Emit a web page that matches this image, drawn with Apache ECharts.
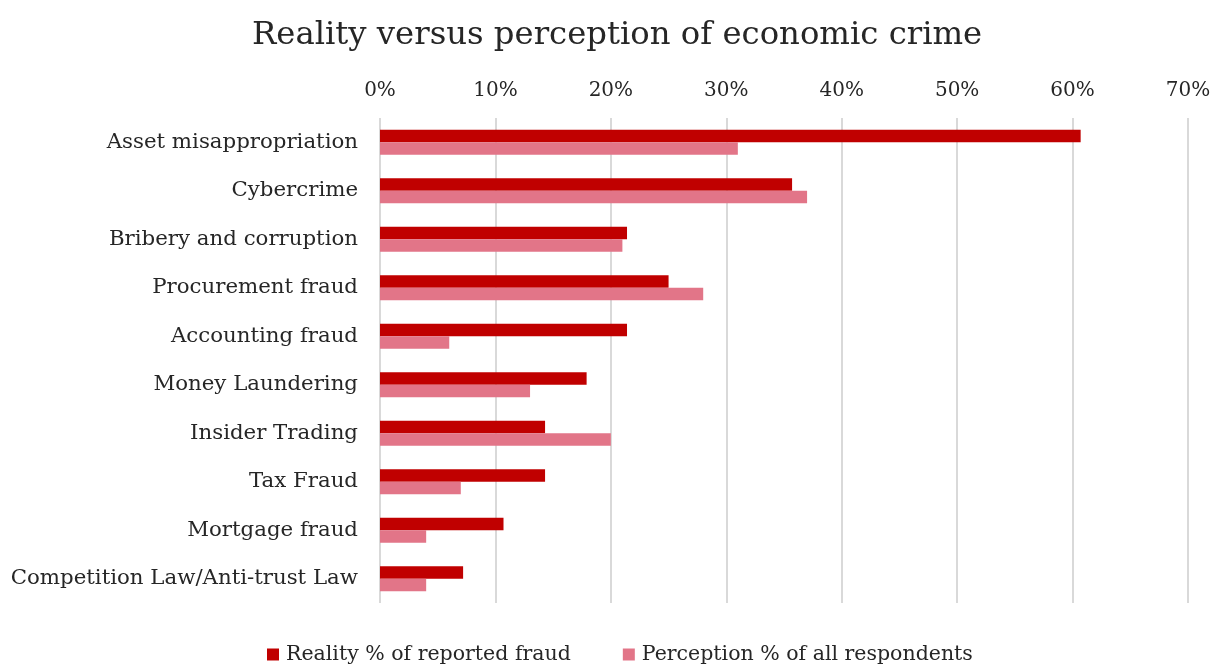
<!DOCTYPE html>
<html>
<head>
<meta charset="utf-8">
<script src="https://cdn.jsdelivr.net/npm/echarts@6/dist/echarts.min.js"></script>
<style>
  html, body { margin: 0; padding: 0; background: #fff; }
  #chart { width: 1215px; height: 664px; }
</style>
</head>
<body>
<div id="chart"></div>
<script>
// Crime types, top to bottom
const categories = [
  'Asset misappropriation',
  'Cybercrime',
  'Bribery and corruption',
  'Procurement fraud',
  'Accounting fraud',
  'Money Laundering',
  'Insider Trading',
  'Tax Fraud',
  'Mortgage fraud',
  'Competition Law/Anti-trust Law'
];

// Percentages
const reality =    [60.7, 35.7, 21.4, 25.0, 21.4, 17.9, 14.3, 14.3, 10.7, 7.2];
const perception = [31.0, 37.0, 21.0, 28.0,  6.0, 13.0, 20.0,  7.0,  4.0, 4.0];

const seriesNames = ['Reality % of reported fraud', 'Perception % of all respondents'];
const titleText = 'Reality versus perception of economic crime';

const FONT = '"DejaVu Serif", Georgia, serif';
const TEXT = '#262626';

const chart = echarts.init(document.getElementById('chart'));
chart.setOption({
  animation: false,
  title: {
    text: titleText,
    left: 247,
    top: 15,
    textStyle: { fontFamily: FONT, fontSize: 32.3, fontWeight: 'normal', color: TEXT }
  },
  legend: {
    top: 639,
    left: 262,
    itemWidth: 12,
    itemHeight: 12,
    itemGap: 52,
    icon: 'rect',
    textStyle: { fontFamily: FONT, fontSize: 20.5, color: TEXT, padding: [0, 0, 0, 2] }
  },
  grid: { left: 380, right: 27, top: 118, bottom: 61, containLabel: false },
  xAxis: {
    type: 'value',
    position: 'top',
    min: 0,
    max: 70,
    interval: 10,
    axisLine: { show: false },
    axisTick: { show: false },
    axisLabel: {
      formatter: '{value}%',
      margin: 17,
      fontFamily: FONT,
      fontSize: 20,
      color: TEXT
    },
    splitLine: { lineStyle: { color: '#d9d9d9', width: 2 } }
  },
  yAxis: {
    type: 'category',
    data: categories,
    inverse: true,
    axisLine: { show: false },
    axisTick: { show: false },
    axisLabel: {
      margin: 22,
      fontFamily: FONT,
      fontSize: 21.3,
      color: TEXT
    }
  },
  series: [
    {
      name: seriesNames[0],
      type: 'bar',
      data: reality,
      barGap: '0%',
      barCategoryGap: '48%',
      itemStyle: { color: '#C00000' }
    },
    {
      name: seriesNames[1],
      type: 'bar',
      data: perception,
      barGap: '0%',
      barCategoryGap: '48%',
      itemStyle: { color: '#E27588' }
    }
  ]
});
</script>
</body>
</html>
